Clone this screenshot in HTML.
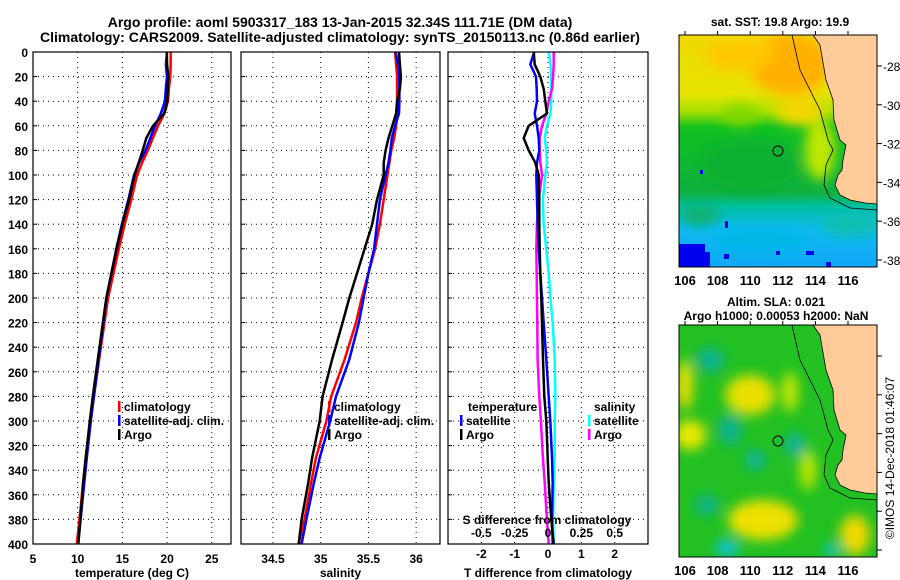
<!DOCTYPE html>
<html><head><meta charset="utf-8">
<style>
html,body{margin:0;padding:0;background:#fff;}
svg{display:block;font-family:"Liberation Sans",Arial,sans-serif;font-weight:bold;}
</style></head>
<body>
<svg id="chart" width="900" height="580" viewBox="0 0 900 580">
<defs>
<filter id="blur6" x="-50%" y="-50%" width="200%" height="200%"><feGaussianBlur stdDeviation="6"/></filter>
<clipPath id="clipTop"><rect x="679" y="35" width="198" height="232"/></clipPath>
<clipPath id="clipBot"><rect x="679" y="325" width="198" height="232"/></clipPath>
<linearGradient id="sstGrad" x1="0" y1="0" x2="0" y2="1">
<stop offset="0" stop-color="#f0d800"/><stop offset="0.25" stop-color="#e8e400"/>
<stop offset="0.33" stop-color="#a8e000"/><stop offset="0.4" stop-color="#10c020"/>
<stop offset="0.68" stop-color="#10b040"/><stop offset="0.74" stop-color="#00c0a0"/>
<stop offset="0.84" stop-color="#10b8f0"/><stop offset="1" stop-color="#10a8f8"/></linearGradient>
</defs>
<g font-size="14" text-anchor="middle">
<text x="340" y="27">Argo profile: aoml 5903317_183 13-Jan-2015 32.34S 111.71E (DM data)</text>
<text x="340" y="42">Climatology: CARS2009. Satellite-adjusted climatology: synTS_20150113.nc (0.86d earlier)</text>
</g>
<g id="plots"></g>

<g>
<g clip-path="url(#clipTop)">
<rect x="679" y="35" width="198" height="232" fill="url(#sstGrad)"/>
<g filter="url(#blur6)">
<ellipse cx="790" cy="65" rx="40" ry="30" fill="#ffb000"/>
<ellipse cx="740" cy="55" rx="35" ry="15" fill="#ffc800"/>
<ellipse cx="800" cy="110" rx="25" ry="15" fill="#f0d800"/>
<ellipse cx="740" cy="115" rx="18" ry="10" fill="#80d800"/>
<ellipse cx="820" cy="150" rx="15" ry="30" fill="#c0e800"/>
<ellipse cx="750" cy="165" rx="50" ry="25" fill="#10b030"/>
<ellipse cx="700" cy="215" rx="20" ry="10" fill="#10b070"/>
<ellipse cx="760" cy="240" rx="50" ry="12" fill="#00b8e8"/>
<ellipse cx="850" cy="225" rx="30" ry="12" fill="#10c0b0"/>
</g>
<rect x="679" y="244" width="26" height="23" fill="#0000f0"/>
<rect x="700" y="252" width="10" height="15" fill="#0000f0"/>
<rect x="724" y="254" width="5" height="5" fill="#0000f0"/>
<rect x="776" y="251" width="4" height="4" fill="#0000f0"/>
<rect x="806" y="251" width="8" height="4" fill="#0000f0"/>
<rect x="826" y="262" width="5" height="5" fill="#0000f0"/>
<rect x="725" y="221" width="3" height="7" fill="#0000f0"/>
<rect x="700" y="170" width="3" height="4" fill="#0000f0"/>
<polygon points="813,35 820,45 826,80 833,100 834,120 840,140 846,145 843,160 842,170 838,175 835,185 840,195 850,200 865,203 877,204 877,35" fill="#ffcc99" stroke="#000" stroke-width="0.8"/>
<polyline points="792,35 800,70 820,110 828,140 833,150 826,165 824,185 830,198 850,208 877,210" fill="none" stroke="#000" stroke-width="0.8"/>
</g>
<rect x="679" y="35" width="198" height="232" fill="none" stroke="#000"/>
<circle cx="778" cy="151" r="5" fill="none" stroke="#000"/>
<text x="780" y="26" font-size="12" text-anchor="middle">sat. SST: 19.8 Argo: 19.9</text>
</g>

<g>
<g clip-path="url(#clipBot)">
<rect x="679" y="325" width="198" height="232" fill="#22c022"/>
<g filter="url(#blur6)">
<ellipse cx="685" cy="385" rx="8" ry="25" fill="#f0e000"/>
<ellipse cx="750" cy="395" rx="25" ry="20" fill="#e8e000"/>
<ellipse cx="690" cy="435" rx="16" ry="15" fill="#e8e800"/>
<ellipse cx="763" cy="520" rx="35" ry="20" fill="#eee000"/>
<ellipse cx="855" cy="535" rx="15" ry="20" fill="#f0d800"/>
<ellipse cx="790" cy="392" rx="8" ry="20" fill="#c8e800"/>
<ellipse cx="808" cy="470" rx="8" ry="20" fill="#c8e800"/>
<ellipse cx="710" cy="360" rx="15" ry="12" fill="#10b090"/>
<ellipse cx="730" cy="430" rx="12" ry="15" fill="#10b090"/>
<ellipse cx="755" cy="460" rx="10" ry="10" fill="#10b0a0"/>
<ellipse cx="795" cy="445" rx="10" ry="12" fill="#10b0a0"/>
<ellipse cx="707" cy="505" rx="12" ry="10" fill="#10b090"/>
<ellipse cx="727" cy="548" rx="12" ry="8" fill="#10c0e0"/>
<ellipse cx="832" cy="550" rx="8" ry="6" fill="#10c0e0"/>
</g>
<polygon points="813,325 820,335 826,370 833,390 834,410 840,430 846,435 843,450 842,460 838,465 835,475 840,485 850,490 865,493 877,494 877,325" fill="#ffcc99" stroke="#000" stroke-width="0.8"/>
<polyline points="792,325 800,360 820,400 828,430 833,440 826,455 824,475 830,488 850,498 877,500" fill="none" stroke="#000" stroke-width="0.8"/>
</g>
<rect x="679" y="325" width="198" height="232" fill="none" stroke="#000"/>
<circle cx="778" cy="441" r="5" fill="none" stroke="#000"/>
<text x="776" y="306" font-size="12" text-anchor="middle">Altim. SLA: 0.021</text>
<text x="776" y="320" font-size="12" text-anchor="middle">Argo h1000: 0.00053 h2000: NaN</text>
</g>
<text transform="translate(894,458) rotate(-90)" font-size="12" font-weight="normal" text-anchor="middle">©IMOS 14-Dec-2018 01:46:07</text>

<script>
const depths=[0,10,20,30,40,50,60,70,80,90,100,120,140,160,180,200,220,250,280,300,330,350,380,400];
const tempClim=[20.4,20.4,20.35,20.2,20.1,19.7,19.0,18.4,17.85,17.2,16.65,16.0,15.26,14.6,14.0,13.4,13.0,12.4,11.8,11.4,10.9,10.6,10.2,9.9];
const tempSat=[19.99,19.87,19.99,19.86,19.77,19.3,18.67,18.12,17.59,16.87,16.3,15.67,14.95,14.32,13.77,13.22,12.87,12.35,11.82,11.47,11.02,10.74,10.32,10.04];
const tempArgo=[19.97,20.0,20.12,20.07,20.02,19.67,18.42,17.67,17.27,16.82,16.37,15.74,15.0,14.35,13.77,13.2,12.82,12.25,11.69,11.35,10.89,10.62,10.3,10.07];
const salClim=[35.78,35.79,35.8,35.8,35.8,35.8,35.79,35.77,35.74,35.72,35.7,35.66,35.62,35.57,35.5,35.43,35.37,35.25,35.11,35.06,34.95,34.9,34.83,34.77];
const salSat=[35.785,35.81,35.825,35.825,35.825,35.82,35.78,35.745,35.73,35.71,35.68,35.62,35.59,35.56,35.5,35.45,35.4,35.3,35.16,35.1,34.99,34.93,34.85,34.8];
const salArgo=[35.82,35.83,35.84,35.83,35.8,35.79,35.75,35.71,35.68,35.66,35.66,35.59,35.54,35.46,35.38,35.3,35.23,35.12,35.02,34.99,34.91,34.87,34.8,34.77];
const tDiffSat=[-0.41,-0.53,-0.36,-0.34,-0.33,-0.40,-0.33,-0.28,-0.26,-0.33,-0.35,-0.33,-0.31,-0.28,-0.23,-0.18,-0.13,-0.05,0.02,0.07,0.12,0.14,0.12,0.14];
const tDiffArgo=[-0.43,-0.40,-0.23,-0.13,-0.08,-0.03,-0.58,-0.73,-0.58,-0.38,-0.28,-0.26,-0.26,-0.25,-0.23,-0.20,-0.18,-0.15,-0.11,-0.05,-0.01,0.02,0.10,0.17];
const sDiffSat=[0.005,0.018,0.025,0.025,0.025,0.018,-0.008,-0.025,-0.013,-0.008,-0.02,-0.038,-0.033,-0.013,0.005,0.018,0.035,0.05,0.055,0.05,0.05,0.043,0.038,0.043];
const sDiffArgo=[0.043,0.043,0.038,0.03,0.005,-0.013,-0.045,-0.063,-0.063,-0.058,-0.045,-0.07,-0.083,-0.088,-0.085,-0.083,-0.08,-0.078,-0.065,-0.053,-0.038,-0.025,-0.008,0.005];
const depthTicks=[0,20,40,60,80,100,120,140,160,180,200,220,240,260,280,300,320,340,360,380,400];
const tempTicks=[5,10,15,20,25];
const salTicks=[34.5,35,35.5,36];
const tDiffTicks=[-2,-1,0,1,2];
const sDiffTicks=[-0.5,-0.25,0,0.25,0.5];
const sDiffTickLabels=['-0.5','-0.25','0','0.25','0.5'];
const lats=[-28,-30,-32,-34,-36,-38];
const lons=[106,108,110,112,114,116];

const NS='http://www.w3.org/2000/svg';
const root=document.getElementById('plots');
const Y0=52,Y1=544;
const yScale=d=>Y0+(d/400)*(Y1-Y0);
function mk(tag,attrs,parent,txt){const e=document.createElementNS(NS,tag);for(const k in attrs)e.setAttribute(k,attrs[k]);if(txt!==undefined)e.textContent=txt;(parent||root).appendChild(e);return e;}
function lin(d0,d1,r0,r1){return v=>r0+(v-d0)/(d1-d0)*(r1-r0);}

const panels=[
 {name:'temperature-panel',x0:33,x1:231,dom:[5,27.15],ticks:tempTicks,labels:tempTicks.map(String),xlabel:'temperature (deg C)'},
 {name:'salinity-panel',x0:241,x1:440,dom:[34.165,36.25],ticks:salTicks,labels:salTicks.map(String),xlabel:'salinity'},
 {name:'difference-panel',x0:448,x1:648,dom:[-3,3],ticks:tDiffTicks,labels:tDiffTicks.map(String),xlabel:'T difference from climatology'}
];
panels.forEach(p=>{
 const g=mk('g',{});
 
 
 p.g=g;p.x=lin(p.dom[0],p.dom[1],p.x0,p.x1);
 depthTicks.forEach(d=>{if(d>0&&d<400){const l=mk('line',{x1:p.x0,x2:p.x1,y1:yScale(d),y2:yScale(d),stroke:'#000','stroke-width':1,'stroke-dasharray':'1,4'},g);
  
  }
  const t=mk('line',{x1:p.x0,x2:p.x0+4,y1:yScale(d),y2:yScale(d),stroke:'#000'},g);
  
  });
 p.ticks.forEach((v,i)=>{const xx=p.x(v);
  const l=mk('line',{x1:xx,x2:xx,y1:Y0,y2:Y1,stroke:'#000','stroke-dasharray':'1,4'},g);
  
  
  const t=mk('text',{x:xx,y:p.name==='difference-panel'?558:563,'font-size':12,'text-anchor':'middle'},g,p.labels[i]);
  
  });
 const xl=mk('text',{x:(p.x0+p.x1)/2,y:577,'font-size':12,'text-anchor':'middle'},g,p.xlabel);
 
 
});
depthTicks.forEach(d=>{const t=mk('text',{x:28,y:yScale(d)+5,'font-size':12,'text-anchor':'end'},panels[0].g,String(d));
 
 });
function line(p,arr,color,name,xf){const pts=arr.map((v,i)=>(xf||p.x)(v).toFixed(1)+','+yScale(depths[i]).toFixed(1)).join(' ');
 const e=mk('polyline',{points:pts,fill:'none',stroke:color,'stroke-width':2.5,'stroke-linejoin':'round'},p.g);
 
 }
line(panels[0],tempClim,'#ff0000','temp-climatology-line');
line(panels[0],tempSat,'#0000ff','temp-satellite-line');
line(panels[0],tempArgo,'#000000','temp-argo-line');
line(panels[1],salClim,'#ff0000','sal-climatology-line');
line(panels[1],salSat,'#0000ff','sal-satellite-line');
line(panels[1],salArgo,'#000000','sal-argo-line');
const sx=lin(-0.75,0.75,448,648);
line(panels[2],sDiffSat,'#00ffff','s-diff-satellite-line',sx);
line(panels[2],sDiffArgo,'#ff00ff','s-diff-argo-line',sx);
line(panels[2],tDiffSat,'#0000ff','t-diff-satellite-line');
line(panels[2],tDiffArgo,'#000000','t-diff-argo-line');
sDiffTicks.forEach((v,i)=>{const t=mk('text',{x:sx(v),y:537,'font-size':12,'text-anchor':'middle'},panels[2].g,sDiffTickLabels[i]);
 
 });
const st=mk('text',{x:547,y:524,'font-size':12,'text-anchor':'middle'},panels[2].g,'S difference from climatology');


panels.forEach(p=>{const r=mk('rect',{x:p.x0,y:Y0,width:p.x1-p.x0,height:Y1-Y0,fill:'none',stroke:'#000','stroke-width':1.2},p.g);
 
 });
function legend(g,x,y,color,label,name){const b=mk('rect',{x:x,y:y-10,width:2.5,height:11,fill:color},g);
 
 
 const t=mk('text',{x:x+6,y:y,'font-size':12},g,label);
 
 }
legend(panels[0].g,118,411,'#ff0000','climatology','legend-climatology');
legend(panels[0].g,118,425,'#0000ff','satellite-adj. clim.','legend-satellite');
legend(panels[0].g,118,439,'#000000','Argo','legend-argo');
legend(panels[1].g,328,411,'#ff0000','climatology','legend-climatology');
legend(panels[1].g,328,425,'#0000ff','satellite-adj. clim.','legend-satellite');
legend(panels[1].g,328,439,'#000000','Argo','legend-argo');
const lt=mk('text',{x:468,y:411,'font-size':12},panels[2].g,'temperature');


legend(panels[2].g,460,425,'#0000ff','satellite','legend-t-satellite');
legend(panels[2].g,460,439,'#000000','Argo','legend-t-argo');
const ls=mk('text',{x:594,y:411,'font-size':12},panels[2].g,'salinity');


legend(panels[2].g,588,425,'#00ffff','satellite','legend-s-satellite');
legend(panels[2].g,588,439,'#ff00ff','Argo','legend-s-argo');

const latY=lin(-28,-38,66,260);
const lonX=lin(106,116,685,848);
[0,290].forEach(off=>{
 const g=mk('g',{});
 
 
 lats.forEach(la=>{const y=latY(la)+off;
  mk('line',{x1:877,x2:882,y1:y,y2:y,stroke:'#000'},g);
  if(off===0){const t=mk('text',{x:883,y:y+5,'font-size':12,'font-weight':'normal'},g,String(la));
  
  }});
 lons.forEach(lo=>{const x=lonX(lo);
  mk('line',{x1:x,x2:x,y1:35+off,y2:31+off,stroke:'#000'},g);
  const t=mk('text',{x:x,y:285+off,'font-size':13,'text-anchor':'middle'},g,String(lo));
  
  });
});
</script>
</svg>
</body></html>
